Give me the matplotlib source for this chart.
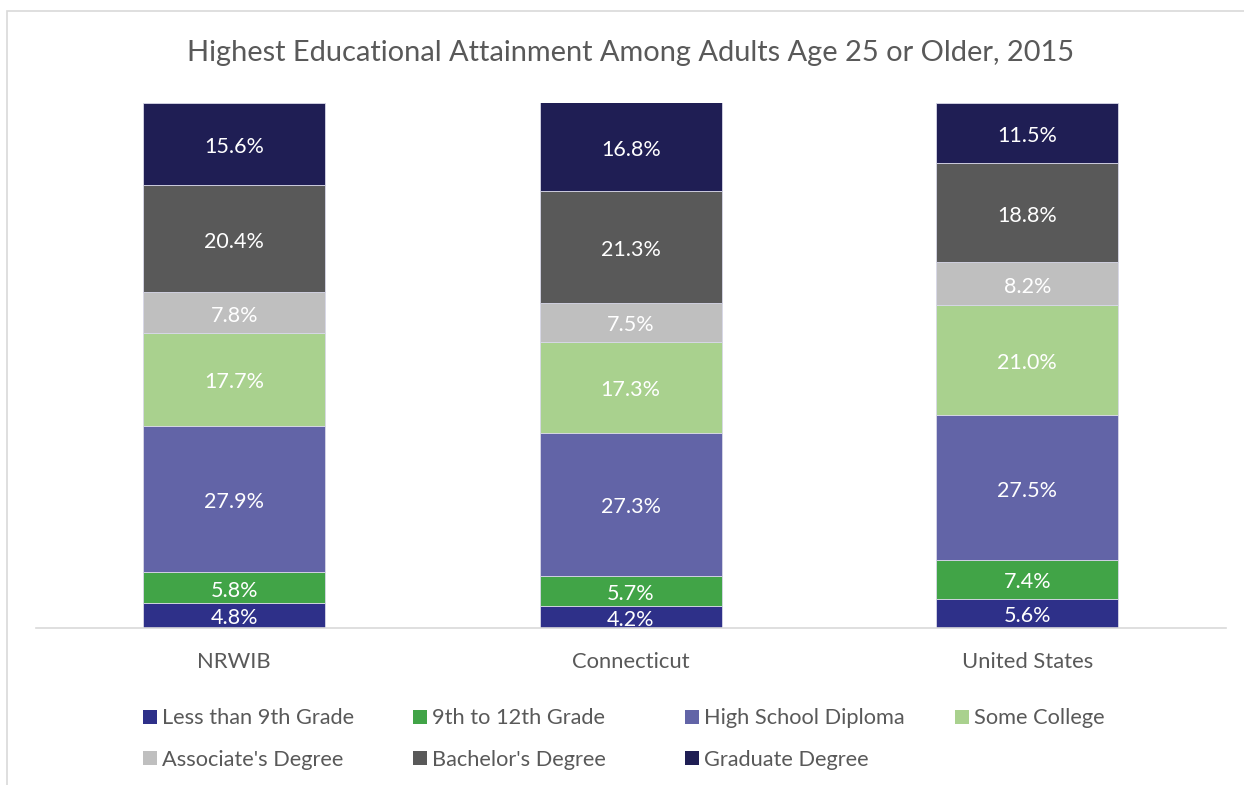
import numpy as np
import matplotlib.pyplot as plt
from matplotlib.patches import Rectangle

plt.rcParams['font.family'] = ['Lato', 'DejaVu Sans']

regions = ['NRWIB', 'Connecticut', 'United States']
levels = ["Less than 9th Grade", "9th to 12th Grade", "High School Diploma",
          "Some College", "Associate's Degree", "Bachelor's Degree", "Graduate Degree"]
less_9th = [4.8, 4.2, 5.6]
grade_9_12 = [5.8, 5.7, 7.4]
hs_diploma = [27.9, 27.3, 27.5]
some_college = [17.7, 17.3, 21.0]
associate = [7.8, 7.5, 8.2]
bachelor = [20.4, 21.3, 18.8]
graduate = [15.6, 16.8, 11.5]
series = [less_9th, grade_9_12, hs_diploma, some_college, associate, bachelor, graduate]
colors = ['#2e3089', '#41a447', '#6264a7', '#a9d18e', '#bfbfbf', '#595959', '#1f1e54']

W, H = 1244, 785
fig = plt.figure(figsize=(W / 100, H / 100), dpi=100)
fig.patches.append(Rectangle((7 / W, -0.01), 1.1, 1 - 11 / H + 0.01, transform=fig.transFigure,
                             fill=False, edgecolor='#d9d9d9', linewidth=1.2))
ax = fig.add_axes([36 / W, 0.2, (1225.5 - 36) / W, (628 - 103) / H])

x = np.arange(len(regions))
bottom = np.zeros(len(regions))
for vals, col, name in zip(series, colors, levels):
    vals = np.array(vals)
    ax.bar(x, vals, width=0.46, bottom=bottom, color=col, edgecolor='#d8d8e8',
           linewidth=0.6, label=name)
    for xi, v, bt in zip(x, vals, bottom):
        ax.annotate(f'{v:.1f}%', (xi, bt + v / 2), xytext=(0, -2.2), textcoords='offset points',
                    ha='center', va='center', color='white', fontsize=15.5)
    bottom += vals

ax.set_xlim(-0.5, 2.5)
ax.set_ylim(0, 100)
ax.set_yticks([])
ax.set_xticks(x)
ax.set_xticklabels(regions, fontsize=15.8, color='#595959')
ax.tick_params(axis='x', length=0, pad=17)
for s in ['top', 'right', 'left']:
    ax.spines[s].set_visible(False)
ax.spines['bottom'].set_color('#d9d9d9')
ax.spines['bottom'].set_linewidth(1.2)

fig.text(631 / W, 1 - 53 / H, 'Highest Educational Attainment Among Adults Age 25 or Older, 2015',
         ha='center', va='center', fontsize=20.9, color='#595959')

# legend laid out in fixed columns, row by row
col_x = [143, 413, 685, 955]
row_y = [717, 758]
sq = 14
for i, (name, col) in enumerate(zip(levels, colors)):
    cx = col_x[i % 4]
    cy = row_y[i // 4]
    fig.patches.append(Rectangle((cx / W, 1 - (cy + sq / 2) / H), sq / W, sq / H,
                                 transform=fig.transFigure, facecolor=col, edgecolor='none'))
    fig.text((cx + sq + 5) / W, 1 - (cy + 1.5) / H, name, ha='left', va='center',
             fontsize=15.7, color='#595959')

fig.savefig('out.png', dpi=100)
